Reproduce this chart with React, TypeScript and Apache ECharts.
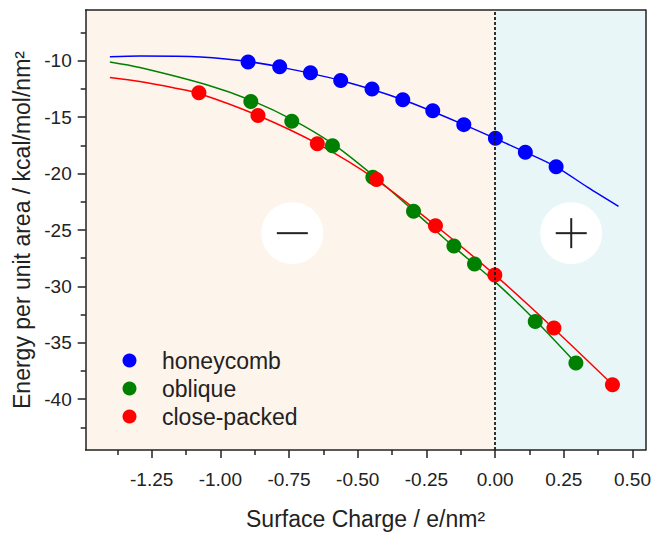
import React, { useEffect, useRef } from "react";
import * as echarts from "echarts";

// ---- data ----
const honeycombX = [-0.899, -0.784, -0.672, -0.562, -0.448, -0.336, -0.227, -0.114, 0.001, 0.110, 0.222];
const honeycombY = [-10.11, -10.54, -11.06, -11.75, -12.5, -13.45, -14.42, -15.66, -16.87, -18.1, -19.4];

const obliqueX = [-0.889, -0.740, -0.592, -0.445, -0.297, -0.150, -0.075, 0.146, 0.294];
const obliqueY = [-13.62, -15.37, -17.53, -20.32, -23.34, -26.41, -28.02, -33.1, -36.78];

const closeX = [-1.078, -0.863, -0.647, -0.432, -0.217, -0.001, 0.214, 0.427];
const closeY = [-12.84, -14.85, -17.35, -20.52, -24.63, -28.99, -33.68, -38.71];

// fitted curves
const honeycombFitX = [-1.402, -1.293, -1.11, -0.928, -0.784, -0.562, -0.336, -0.114, 0.110, 0.222, 0.336, 0.449];
const honeycombFitY = [-9.65, -9.58, -9.62, -9.98, -10.54, -11.75, -13.45, -15.66, -18.1, -19.4, -21.2, -22.9];

const obliqueFitX = [-1.402, -1.293, -1.05, -0.889, -0.740, -0.592, -0.445, -0.297, -0.150, 0.0, 0.146, 0.294];
const obliqueFitY = [-10.11, -10.6, -12.13, -13.5, -15.2, -17.35, -20.15, -23.3, -26.5, -29.6, -33.0, -36.8];

const closeFitX = [-1.402, -1.293, -1.171, -1.078, -0.863, -0.647, -0.432, -0.217, 0.0, 0.214, 0.427];
const closeFitY = [-11.49, -11.84, -12.39, -12.9, -14.85, -17.35, -20.55, -24.6, -29.0, -33.75, -38.7];

const xMajorTicks = [-1.25, -1.0, -0.75, -0.5, -0.25, 0.0, 0.25, 0.5];
const xMinorTicks = [-1.375, -1.125, -0.875, -0.625, -0.375, -0.125, 0.125, 0.375];
const yMajorTicks = [-40, -35, -30, -25, -20, -15, -10];
const yMinorTicks = [-42.5, -37.5, -32.5, -27.5, -22.5, -17.5, -12.5, -7.5];

const xMin = -1.49;
const xMax = 0.547;
const yMin = -44.5;
const yMax = -5.5;

const signX = [-0.738, 0.277];
const signY = [-25.28, -25.28];
const signKinds = ["minus", "plus"];

const seriesNames = ["honeycomb", "oblique", "close-packed"];
const colors = ["#0000ff", "#008000", "#ff0000"];

const zip = (xs: number[], ys: number[]) => xs.map((x, i) => [x, ys[i]]);

export default function App() {
  const ref = useRef<HTMLDivElement>(null);
  useEffect(() => {
    if (!ref.current) return;
    const chart = echarts.init(ref.current, null, { renderer: "svg" });
    const font = "Liberation Sans, Arial, sans-serif";
    const axisColor = "#222";

    const borderAxis = (pos: string) => ({
      show: true,
      type: "value",
      position: pos,
      z: 5,
      axisLine: { show: true, onZero: false, lineStyle: { color: axisColor, width: 1.5 } },
      axisTick: { show: false },
      axisLabel: { show: false },
      splitLine: { show: false },
    });

    const option: any = {
      animation: false,
      backgroundColor: "#ffffff",
      textStyle: { fontFamily: font },
      grid: {
        left: 85.7,
        right: 7.7,
        top: 10,
        bottom: 73,
        show: true,
        backgroundColor: "#fdf4ec",
        borderWidth: 0,
      },
      legend: {
        orient: "vertical",
        left: 117.5,
        top: 344,
        itemWidth: 55,
        itemHeight: 14,
        itemGap: 5,
        icon: "circle",
        data: seriesNames,
        textStyle: { fontSize: 23, color: axisColor, fontFamily: font },
      },
      xAxis: [
        {
          type: "value",
          min: xMin,
          max: xMax,
          position: "bottom",
          z: 5,
          name: "Surface Charge / e/nm²",
          nameLocation: "middle",
          nameGap: 57,
          nameTextStyle: { fontSize: 23, color: axisColor, fontFamily: font },
          axisLine: { show: true, onZero: false, lineStyle: { color: axisColor, width: 1.5 } },
          axisTick: { show: true, inside: false, length: 8, customValues: xMajorTicks, lineStyle: { color: axisColor, width: 1.5 } },
          axisLabel: {
            show: true,
            customValues: xMajorTicks,
            fontSize: 19,
            color: axisColor,
            margin: 20,
            formatter: (v: number) => v.toFixed(2),
          },
          splitLine: { show: false },
        },
        {
          type: "value",
          min: xMin,
          max: xMax,
          position: "bottom",
          z: 5,
          axisLine: { show: false, onZero: false },
          axisTick: { show: true, inside: false, length: 5, customValues: xMinorTicks, lineStyle: { color: axisColor, width: 1.5 } },
          axisLabel: { show: false },
          splitLine: { show: false },
        },
        { ...borderAxis("top"), min: xMin, max: xMax },
      ],
      yAxis: [
        {
          type: "value",
          min: yMin,
          max: yMax,
          position: "left",
          z: 5,
          name: "Energy per unit area / kcal/mol/nm²",
          nameLocation: "middle",
          nameGap: 40,
          nameRotate: 90,
          nameTextStyle: { fontSize: 23, color: axisColor, fontFamily: font },
          axisLine: { show: true, onZero: false, lineStyle: { color: axisColor, width: 1.5 } },
          axisTick: { show: true, inside: false, length: 8, customValues: yMajorTicks, lineStyle: { color: axisColor, width: 1.5 } },
          axisLabel: {
            show: true,
            customValues: yMajorTicks,
            fontSize: 19,
            color: axisColor,
            margin: 14,
            formatter: (v: number) => String(v),
          },
          splitLine: { show: false },
        },
        {
          type: "value",
          min: yMin,
          max: yMax,
          position: "left",
          z: 5,
          axisLine: { show: false, onZero: false },
          axisTick: { show: true, inside: false, length: 5, customValues: yMinorTicks, lineStyle: { color: axisColor, width: 1.5 } },
          axisLabel: { show: false },
          splitLine: { show: false },
        },
        { ...borderAxis("right"), min: yMin, max: yMax },
      ],
      series: [
        {
          name: "regions",
          type: "line",
          data: [],
          z: 1,
          silent: true,
          markArea: {
            silent: true,
            itemStyle: { color: "#e9f6f8" },
            data: [[{ xAxis: 0 }, { xAxis: xMax }]],
          },
          markLine: {
            silent: true,
            symbol: ["none", "none"],
            label: { show: false },
            lineStyle: { color: "#1a1a1a", width: 1.8, type: [3, 2] },
            data: [{ xAxis: 0 }],
          },
        },
        {
          name: "signs",
          type: "custom",
          z: 1.5,
          silent: true,
          data: zip(signX, signY),
          renderItem: (params: any, api: any) => {
            const p = api.coord([api.value(0), api.value(1)]);
            const kind = signKinds[params.dataIndex];
            const children: any[] = [
              { type: "circle", shape: { cx: p[0], cy: p[1], r: 31 }, style: { fill: "#ffffff" } },
              {
                type: "line",
                shape: { x1: p[0] - 15.5, y1: p[1], x2: p[0] + 15.5, y2: p[1] },
                style: { stroke: "#222", lineWidth: 2 },
              },
            ];
            if (kind === "plus") {
              children.push({
                type: "line",
                shape: { x1: p[0], y1: p[1] - 15, x2: p[0], y2: p[1] + 15 },
                style: { stroke: "#222", lineWidth: 2 },
              });
            }
            return { type: "group", children };
          },
        },
        ...[
          [honeycombFitX, honeycombFitY],
          [obliqueFitX, obliqueFitY],
          [closeFitX, closeFitY],
        ].map((d, i) => ({
          name: seriesNames[i] + " fit",
          type: "line",
          data: zip(d[0], d[1]),
          smooth: 0.3,
          showSymbol: false,
          symbol: "none",
          z: 2,
          lineStyle: { color: colors[i], width: 1.5 },
          itemStyle: { color: colors[i] },
        })),
        ...[
          [honeycombX, honeycombY],
          [obliqueX, obliqueY],
          [closeX, closeY],
        ].map((d, i) => ({
          name: seriesNames[i],
          type: "scatter",
          data: zip(d[0], d[1]),
          symbol: "circle",
          symbolSize: 15,
          z: 3,
          itemStyle: { color: colors[i], opacity: 1 },
        })),
      ],
    };
    chart.setOption(option);
    return () => chart.dispose();
  }, []);
  return (
    <div
      ref={ref}
      style={{ position: "fixed", left: 0, top: 0, width: 654, height: 535, background: "#fff" }}
    />
  );
}
